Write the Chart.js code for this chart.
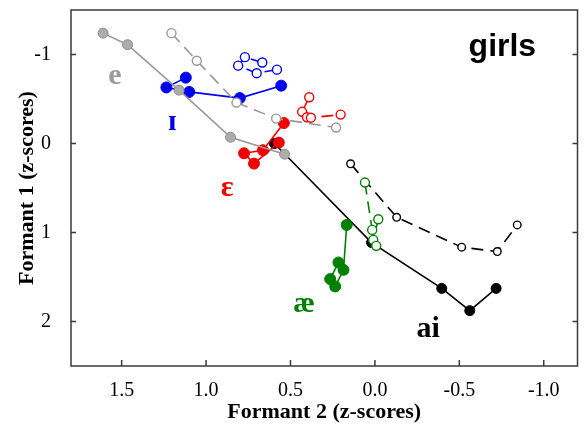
<!DOCTYPE html>
<html>
<head>
<meta charset="utf-8">
<script src="https://cdn.jsdelivr.net/npm/chart.js@4/dist/chart.umd.min.js"></script>
<style>
  html, body { margin: 0; padding: 0; background: #fff; }
</style>
</head>
<body>
<canvas id="girls_vowels" width="584" height="430"></canvas>
<script>
// Formant trajectories (z-scores), F2 on the x axis, F1 on the y axis
const eSolidF2 = [1.61, 1.465, 1.16, 0.855, 0.535];
const eSolidF1 = [-1.24, -1.11, -0.60, -0.07, 0.12];
const eDashF2 = [1.205, 1.055, 0.82, 0.585, 0.23];
const eDashF1 = [-1.24, -0.93, -0.46, -0.28, -0.18];

const ihSolidF2 = [1.12, 1.235, 1.10, 0.80, 0.555];
const ihSolidF1 = [-0.74, -0.63, -0.58, -0.51, -0.65];
const ihDashF2 = [0.667, 0.77, 0.81, 0.70, 0.58];
const ihDashF1 = [-0.91, -0.97, -0.875, -0.79, -0.83];

const ehSolidF2 = [0.539, 0.663, 0.775, 0.716, 0.569];
const ehSolidF1 = [-0.23, 0.075, 0.11, 0.226, -0.01];
const ehDashF2 = [0.389, 0.431, 0.402, 0.379, 0.203];
const ehDashF1 = [-0.52, -0.356, -0.295, -0.29, -0.325];

const aeSolidF2 = [0.167, 0.186, 0.235, 0.265, 0.216];
const aeSolidF1 = [0.915, 1.419, 1.606, 1.523, 1.337];
const aeDashF2 = [0.059, 0.016, -0.02, 0.01, -0.008];
const aeDashF1 = [0.439, 0.971, 0.851, 1.083, 1.15];

const aiSolidF2 = [0.595, 0.02, -0.396, -0.562, -0.718];
const aiSolidF1 = [0.0, 1.113, 1.628, 1.878, 1.628];
const aiDashF2 = [0.144, -0.129, -0.514, -0.725, -0.843];
const aiDashF1 = [0.228, 0.829, 1.165, 1.214, 0.915];

const xTicks = [1.5, 1.0, 0.5, 0.0, -0.5, -1.0];
const yTicks = [-1, 0, 1, 2];

// vowel labels placed in data units
const vowelLabels = [
  { text: 'e', x: 1.54, y: -0.76, color: '#9a9a9a' },
  { text: 'ɪ', x: 1.20, y: -0.24, color: '#0000f0' },
  { text: 'ɛ', x: 0.875, y: 0.50, color: '#f00000' },
  { text: 'æ', x: 0.42, y: 1.81, color: '#008000' },
  { text: 'ai', x: -0.315, y: 2.09, color: '#000000' }
];

const pts = (xs, ys) => xs.map((x, i) => ({ x: x, y: ys[i] }));

function filled(xs, ys, color, fill, edge, r) {
  return {
    data: pts(xs, ys), borderColor: color, borderWidth: 1.6,
    pointRadius: r, pointBackgroundColor: fill, pointBorderColor: edge,
    pointBorderWidth: 1, showLine: true, tension: 0
  };
}
function open(xs, ys, color, r) {
  return {
    data: pts(xs, ys), borderColor: color, borderWidth: 1.6, borderDash: [12, 7],
    pointRadius: r, pointBackgroundColor: '#ffffff', pointBorderColor: color,
    pointBorderWidth: 1.4, showLine: true, tension: 0
  };
}

const framePlugin = {
  id: 'frame',
  afterDraw(chart) {
    const { ctx, chartArea: a, scales } = chart;
    ctx.save();
    ctx.strokeStyle = '#3a3a3a';
    ctx.lineWidth = 1.5;
    ctx.strokeRect(a.left, a.top, a.right - a.left, a.bottom - a.top);
    ctx.beginPath();
    xTicks.forEach(v => {
      const px = scales.x.getPixelForValue(v);
      ctx.moveTo(px, a.bottom); ctx.lineTo(px, a.bottom - 6);
    });
    yTicks.forEach(v => {
      const py = scales.y.getPixelForValue(v);
      ctx.moveTo(a.left, py); ctx.lineTo(a.left + 5, py);
      ctx.moveTo(a.right, py); ctx.lineTo(a.right - 5, py);
    });
    ctx.stroke();
    ctx.restore();
  }
};

const labelPlugin = {
  id: 'vowelLabels',
  afterDatasetsDraw(chart) {
    const { ctx, scales } = chart;
    ctx.save();
    ctx.textAlign = 'center';
    ctx.textBaseline = 'middle';
    ctx.font = 'bold 30px "Liberation Serif", "DejaVu Serif", serif';
    vowelLabels.forEach(l => {
      ctx.fillStyle = l.color;
      ctx.fillText(l.text, scales.x.getPixelForValue(l.x), scales.y.getPixelForValue(l.y));
    });
    ctx.fillStyle = '#000';
    ctx.font = 'bold 32px "Liberation Sans", Arial, sans-serif';
    ctx.fillText('girls', scales.x.getPixelForValue(-0.755), scales.y.getPixelForValue(-1.08));
    ctx.restore();
  }
};

const serif = '"Liberation Serif", "Times New Roman", serif';

new Chart('girls_vowels', {
  type: 'scatter',
  data: {
    datasets: [
      open(eDashF2, eDashF1, '#999999', 4.5),
      filled(eSolidF2, eSolidF1, '#999999', '#acacac', '#8c8c8c', 5),
      filled(ehSolidF2, ehSolidF1, '#f00000', '#f00000', '#f00000', 5.5),
      open(ehDashF2, ehDashF1, '#f00000', 4.5),
      filled(ihSolidF2, ihSolidF1, '#0000f0', '#0000f0', '#0000f0', 5.5),
      open(ihDashF2, ihDashF1, '#0000f0', 4.5),
      open(aeDashF2, aeDashF1, '#008000', 4.5),
      filled(aeSolidF2, aeSolidF1, '#008000', '#008000', '#008000', 5.5),
      open(aiDashF2, aiDashF1, '#000000', 3.8),
      filled(aiSolidF2, aiSolidF1, '#000000', '#000000', '#000000', 5)
    ]
  },
  options: {
    responsive: false,
    animation: false,
    devicePixelRatio: 1,
    layout: { padding: { top: 10, right: 4, left: 0, bottom: 0 } },
    plugins: { legend: { display: false }, tooltip: { enabled: false } },
    elements: { point: { pointStyle: 'circle' } },
    scales: {
      x: {
        type: 'linear', min: -1.2, max: 1.8, reverse: true,
        grid: { display: false, drawTicks: false },
        border: { display: false },
        afterBuildTicks: s => { s.ticks = xTicks.map(v => ({ value: v })); },
        afterFit: s => { s.height = 64; s.paddingLeft = 0; s.paddingRight = 0; },
        ticks: {
          color: '#000', padding: 13,
          font: { family: serif, size: 20 },
          callback: v => v.toFixed(1)
        },
        title: {
          display: true, text: 'Formant 2 (z-scores)', color: '#000',
          font: { family: serif, size: 22, weight: 'bold' },
          padding: { top: 0, bottom: 4 }
        }
      },
      y: {
        type: 'linear', min: -1.5, max: 2.5, reverse: true,
        grid: { display: false, drawTicks: false },
        border: { display: false },
        afterBuildTicks: s => { s.ticks = yTicks.map(v => ({ value: v })); },
        afterFit: s => { s.width = 71; s.paddingTop = 0; s.paddingBottom = 0; },
        ticks: {
          color: '#000', padding: 20,
          font: { family: serif, size: 20 },
          callback: v => String(v)
        },
        title: {
          display: true, text: 'Formant 1 (z-scores)', color: '#000',
          font: { family: serif, size: 22, weight: 'bold' },
          padding: { top: 14, bottom: 0 }
        }
      }
    }
  },
  plugins: [framePlugin, labelPlugin]
});
</script>
</body>
</html>
